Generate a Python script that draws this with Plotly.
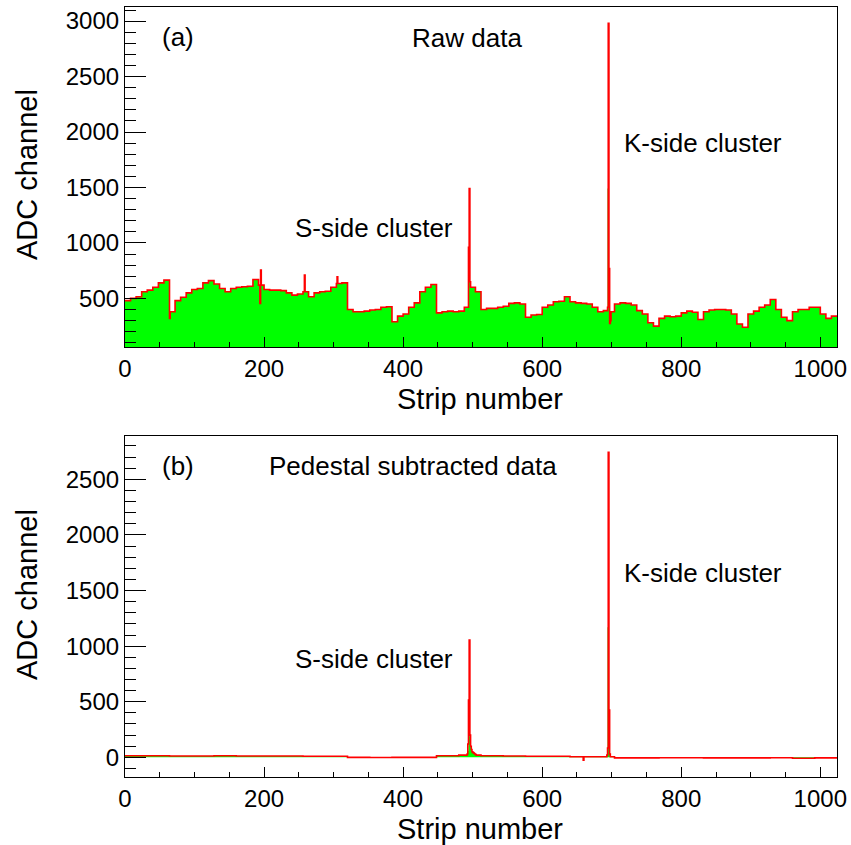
import numpy as np
import plotly.graph_objects as go

# ---------------- data ----------------
# Raw data: mean ADC level in blocks of 8 strips (128 blocks -> 1024 strips)
raw_block8 = [480, 500, 515, 560, 575, 600, 640, 665,
              380, 480, 510, 550, 580, 590, 640, 660,
              630, 590, 560, 590, 600, 605, 610, 670,
              620, 580, 575, 575, 570, 550, 530, 540,
              560, 515, 550, 560, 565, 600, 635, 640,
              400, 380, 380, 385, 395, 400, 420, 425,
              290, 340, 360, 420, 460, 560, 600, 625,
              370, 380, 385, 380, 385, 420, 600, 560,
              400, 410, 410, 420, 430, 455, 460, 450,
              330, 350, 355, 420, 440, 470, 475, 515,
              470, 460, 455, 450, 420, 380, 390, 380,
              450, 460, 455, 440, 390, 360, 280, 250,
              320, 340, 335, 340, 370, 385, 375, 310,
              380, 395, 400, 400, 395, 360, 270, 240,
              360, 385, 420, 440, 490, 400, 330, 300,
              380, 400, 400, 420, 420, 360, 320, 340]
# single strips that stand out (raw)
raw_spike_strips = [64, 194, 195, 258, 305, 493, 494, 495, 496, 694, 695, 696, 697, 698]
raw_red_spike_values = [320, 455, 755, 710, 695, 420, 960, 1490, 650, 420, 2980, 770, 275, 300]
raw_green_spike_values = [320, 455, 755, 710, 695, 420, 660, 665, 650, 1490, 1490, 770, 275, 300]

# Pedestal subtracted: mean level in blocks of 32 strips (32 blocks)
ped_block32 = [15, 15, 12, 12, 15, 12, 12, 12,
               10, 10, 0, -2, 0, 0, 15, 20,
               15, 12, 10, 10, 5, 5, -5, -5,
               -3, -3, -5, -5, -5, -3, -8, -5]
ped_spike_strips = [492, 493, 494, 495, 496, 497, 498, 499, 500, 501, 502, 503, 504,
                    659, 693, 694, 695, 696, 697]
ped_red_spike_values = [30, 120, 515, 1055, 200, 100, 70, 50, 45, 40, 35, 30, 25,
                        -25, 20, 84, 2743, 425, 30]
ped_green_spike_values = [25, 60, 216, 216, 180, 100, 70, 50, 45, 40, 35, 30, 25,
                          -25, 20, 1170, 1170, 425, 30]

N_STRIPS = 1024


def build(blocks, size, strips, values):
    arr = np.repeat(np.array(blocks, dtype=float), size)[:N_STRIPS]
    for s, v in zip(strips, values):
        arr[s] = v
    return np.append(arr, arr[-1])


edges = np.arange(N_STRIPS + 1)
raw_red = build(raw_block8, 8, raw_spike_strips, raw_red_spike_values)
raw_green = build(raw_block8, 8, raw_spike_strips, raw_green_spike_values)
ped_red = build(ped_block32, 32, ped_spike_strips, ped_red_spike_values)
ped_green = build(ped_block32, 32, ped_spike_strips, ped_green_spike_values)

W, H = 851, 845
FONT = "Liberation Sans, Arial, sans-serif"


def px(x):
    return x / W


def py(y):
    return 1 - y / H


fig = go.Figure()
for xa, ya, g, r in [("x", "y", raw_green, raw_red), ("x2", "y2", ped_green, ped_red)]:
    fig.add_trace(go.Scatter(x=edges, y=g, mode="lines", line=dict(shape="hv", width=0, color="#00ff00"),
                             fill="tozeroy", fillcolor="#00ff00", xaxis=xa, yaxis=ya,
                             showlegend=False, hoverinfo="skip"))
    fig.add_trace(go.Scatter(x=edges, y=r, mode="lines", line=dict(shape="hv", width=1.6, color="#ff0000"),
                             xaxis=xa, yaxis=ya, showlegend=False, hoverinfo="skip"))

xdom = [px(125), px(837)]
xcommon = dict(range=[0, 1024], domain=xdom, showline=True, mirror=True, linecolor="black", linewidth=1.2,
               ticks="inside", ticklen=10, tickcolor="black", tickwidth=1, dtick=200, tick0=0,
               minor=dict(dtick=50, ticklen=5, ticks="inside", tickcolor="black"),
               automargin=False,
               showgrid=False, zeroline=False, tickfont=dict(family=FONT, size=24, color="black"))
ycommon = dict(showline=True, mirror=True, linecolor="black", linewidth=1.2,
               ticks="inside", ticklen=21, tickcolor="black", tickwidth=1, dtick=500, tick0=0,
               minor=dict(dtick=100, ticklen=11, ticks="inside", tickcolor="black"),
               automargin=False,
               showgrid=False, zeroline=False, tickfont=dict(family=FONT, size=24, color="black"))

fig.update_layout(
    width=W, height=H, margin=dict(l=0, r=0, t=0, b=0, autoexpand=False),
    paper_bgcolor="white", plot_bgcolor="white",
    xaxis=dict(xcommon, anchor="y"),
    yaxis=dict(ycommon, range=[62, 3127], domain=[py(347), py(7)], anchor="x"),
    xaxis2=dict(xcommon, anchor="y2"),
    yaxis2=dict(ycommon, range=[-174, 2892], domain=[py(776.7), py(435.7)], anchor="x2"),
)

ann = [
    ("(a)", 160, 37, 26, "left", 0),
    ("Raw data", 410, 38, 26, "left", 0),
    ("S-side cluster", 293, 228, 26, "left", 0),
    ("K-side cluster", 622, 143, 26, "left", 0),
    ("(b)", 160, 466, 26, "left", 0),
    ("Pedestal subtracted data", 267, 466, 26, "left", 0),
    ("S-side cluster", 293, 659, 26, "left", 0),
    ("K-side cluster", 622, 573, 26, "left", 0),
    ("Strip number", 480, 399, 29, "center", 0),
    ("Strip number", 480, 829, 29, "center", 0),
    ("ADC channel", 27, 175, 29, "center", -90),
    ("ADC channel", 27, 595, 29, "center", -90),
]
for text, x, y, size, xa, rot in ann:
    fig.add_annotation(text=text, x=px(x), y=py(y), xref="paper", yref="paper",
                       xanchor=xa, yanchor="middle", showarrow=False, textangle=rot,
                       font=dict(family=FONT, size=size, color="black"))

fig.write_html("out.html")
